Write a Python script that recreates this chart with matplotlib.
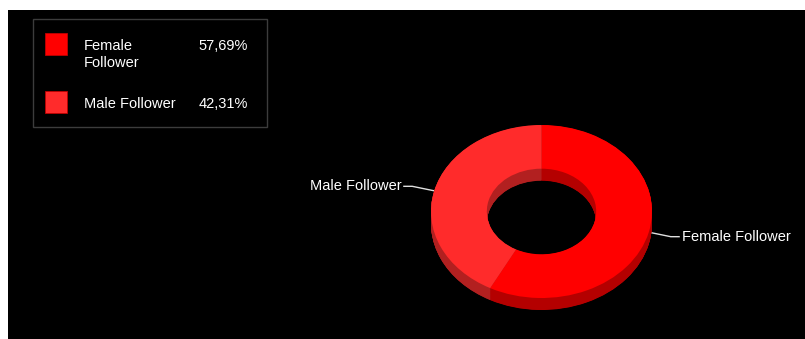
import numpy as np
import matplotlib
matplotlib.use("Agg")
import matplotlib.pyplot as plt
from matplotlib.patches import Rectangle

plt.rcParams['font.family'] = ['Liberation Sans', 'DejaVu Sans']

labels = ['Female Follower', 'Male Follower']
legend_names = ['Female\nFollower', 'Male Follower']
values = [57.69, 42.31]
top_colors = ['#ff0000', '#ff2b2b']
side_colors = ['#b40000', '#b22020']

W, H = 805, 339
fig = plt.figure(figsize=(W / 100, H / 100), dpi=100, facecolor='white')

# overlay in image pixel coords (y down)
bg = fig.add_axes([0, 0, 1, 1])
bg.set_xlim(0, W)
bg.set_ylim(H, 0)
bg.axis('off')
bg.add_patch(Rectangle((8, 10), W - 8, H - 10, facecolor='black', edgecolor='none'))

# donut axes: top face ellipse rx=110.5, ry=86.5 px, depth 12 px
cx, cy, rx, ry, depth = 541.5, 211.5, 110.5, 86.5, 12
d = depth / ry
ax = fig.add_axes([(cx - rx) / W, (H - (cy + ry + depth)) / H,
                   2 * rx / W, (2 * ry + depth) / H])
ax.set_facecolor('none')

wp = dict(width=0.505, linewidth=0, antialiased=True)
for off in np.linspace(d, 0, 40)[:-1]:
    ax.pie(values, colors=side_colors, startangle=90, counterclock=False,
           radius=1, center=(0, -off), wedgeprops=wp)
ax.pie(values, colors=top_colors, startangle=90, counterclock=False,
       radius=1, center=(0, 0), wedgeprops=wp)
ax.set_aspect('auto')
ax.set_xlim(-1, 1)
ax.set_ylim(-1 - d, 1)
ax.axis('off')

# leader lines and labels
total = sum(values)
cum = 0
for lab, v in zip(labels, values):
    mid = 90 - 360 * (cum + v / 2) / total
    cum += v
    t = np.deg2rad(mid)
    p = ax.transData.transform((np.cos(t), np.sin(t)))
    x0, y0 = bg.transData.inverted().transform(p)
    side = 1 if np.cos(t) > 0 else -1
    x1, y1 = x0 + side * 22, y0 + side * 4.5
    x2 = x1 + side * 9
    bg.plot([x0, x1, x2], [y0, y1, y1], color='#e0e0e0', lw=1, solid_capstyle='butt')
    bg.text(x2 + side * 2, y1, lab, color='white', fontsize=10.5,
            ha='left' if side > 0 else 'right', va='center')

# legend
bg.add_patch(Rectangle((32.5, 18.5), 234, 108, facecolor='black',
                       edgecolor='#3c3c3c', lw=1))
rows_y = [43.5, 102]
for name, v, c, yy in zip(legend_names, values, top_colors, rows_y):
    bg.add_patch(Rectangle((45, yy - 11), 22, 22, facecolor=c,
                           edgecolor='#c00000', lw=0.6))
    bg.text(84, yy - 5, name, color='white', fontsize=10.5, ha='left', va='top',
            linespacing=1.3)
    bg.text(248, yy + 2, f"{v:.2f}%".replace('.', ','), color='white', fontsize=10.5,
            ha='right', va='center')

fig.savefig('out.png', dpi=100, facecolor='white')
